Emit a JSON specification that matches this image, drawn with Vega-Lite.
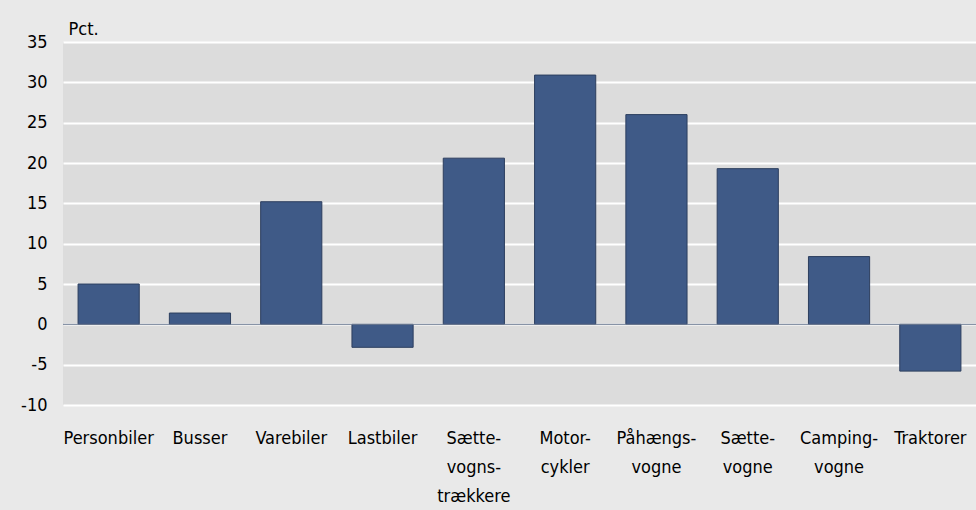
{
  "$schema": "https://vega.github.io/schema/vega-lite/v6.json",
  "width": 913,
  "height": 363,
  "autosize": {"type": "none"},
  "padding": {"left": 63, "top": 42, "right": 0, "bottom": 105},
  "background": "#e9e9e9",
  "config": {
    "view": {"fill": "#dcdcdc", "stroke": null},
    "font": "DejaVu Sans Condensed"
  },
  "data": {
    "values": [
      {"kategori": "Personbiler", "pct": 5.0},
      {"kategori": "Busser", "pct": 1.4},
      {"kategori": "Varebiler", "pct": 15.2},
      {"kategori": "Lastbiler", "pct": -2.85},
      {"kategori": "Sættevognstrækkere", "pct": 20.6},
      {"kategori": "Motorcykler", "pct": 30.9},
      {"kategori": "Påhængsvogne", "pct": 26.0},
      {"kategori": "Sættevogne", "pct": 19.3},
      {"kategori": "Campingvogne", "pct": 8.4},
      {"kategori": "Traktorer", "pct": -5.8}
    ]
  },
  "layer": [
    {
      "mark": {"type": "bar", "color": "#3f5a87", "stroke": "#2c3e5e", "strokeWidth": 1},
      "encoding": {
        "x": {
          "field": "kategori",
          "type": "nominal",
          "sort": null,
          "scale": {"paddingInner": 0.33, "paddingOuter": 0.165},
          "axis": {
            "title": null,
            "labelExpr": "split(datum.value === 'Sættevognstrækkere' ? 'Sætte-|vogns-|trækkere' : datum.value === 'Motorcykler' ? 'Motor-|cykler' : datum.value === 'Påhængsvogne' ? 'Påhængs-|vogne' : datum.value === 'Sættevogne' ? 'Sætte-|vogne' : datum.value === 'Campingvogne' ? 'Camping-|vogne' : datum.value, '|')",
            "labelAngle": 0,
            "labelFontSize": 18,
            "labelColor": "#000000",
            "labelLineHeight": 29,
            "labelPadding": 24,
            "labelBaseline": "top",
            "ticks": false,
            "domain": false,
            "grid": false
          }
        },
        "y": {
          "field": "pct",
          "type": "quantitative",
          "scale": {"domain": [-10, 35], "nice": false},
          "axis": {
            "values": [-10, -5, 0, 5, 10, 15, 20, 25, 30, 35],
            "labelExpr": "replace(datum.label, '−', '-')",
            "title": "Pct.",
            "titleAngle": 0,
            "titleAlign": "left",
            "titleBaseline": "alphabetic",
            "titleX": 5,
            "titleY": -8,
            "titleFontSize": 18,
            "titleFontWeight": "normal",
            "titleColor": "#000000",
            "labelFontSize": 18,
            "labelColor": "#000000",
            "labelPadding": 16,
            "ticks": false,
            "domain": false,
            "grid": true,
            "gridColor": "#ffffff",
            "gridWidth": 2
          }
        }
      }
    },
    {
      "data": {"values": [{"y": 0}]},
      "mark": {"type": "rule", "color": "#6f7d94", "strokeWidth": 1},
      "encoding": {"y": {"field": "y", "type": "quantitative"}}
    }
  ]
}
